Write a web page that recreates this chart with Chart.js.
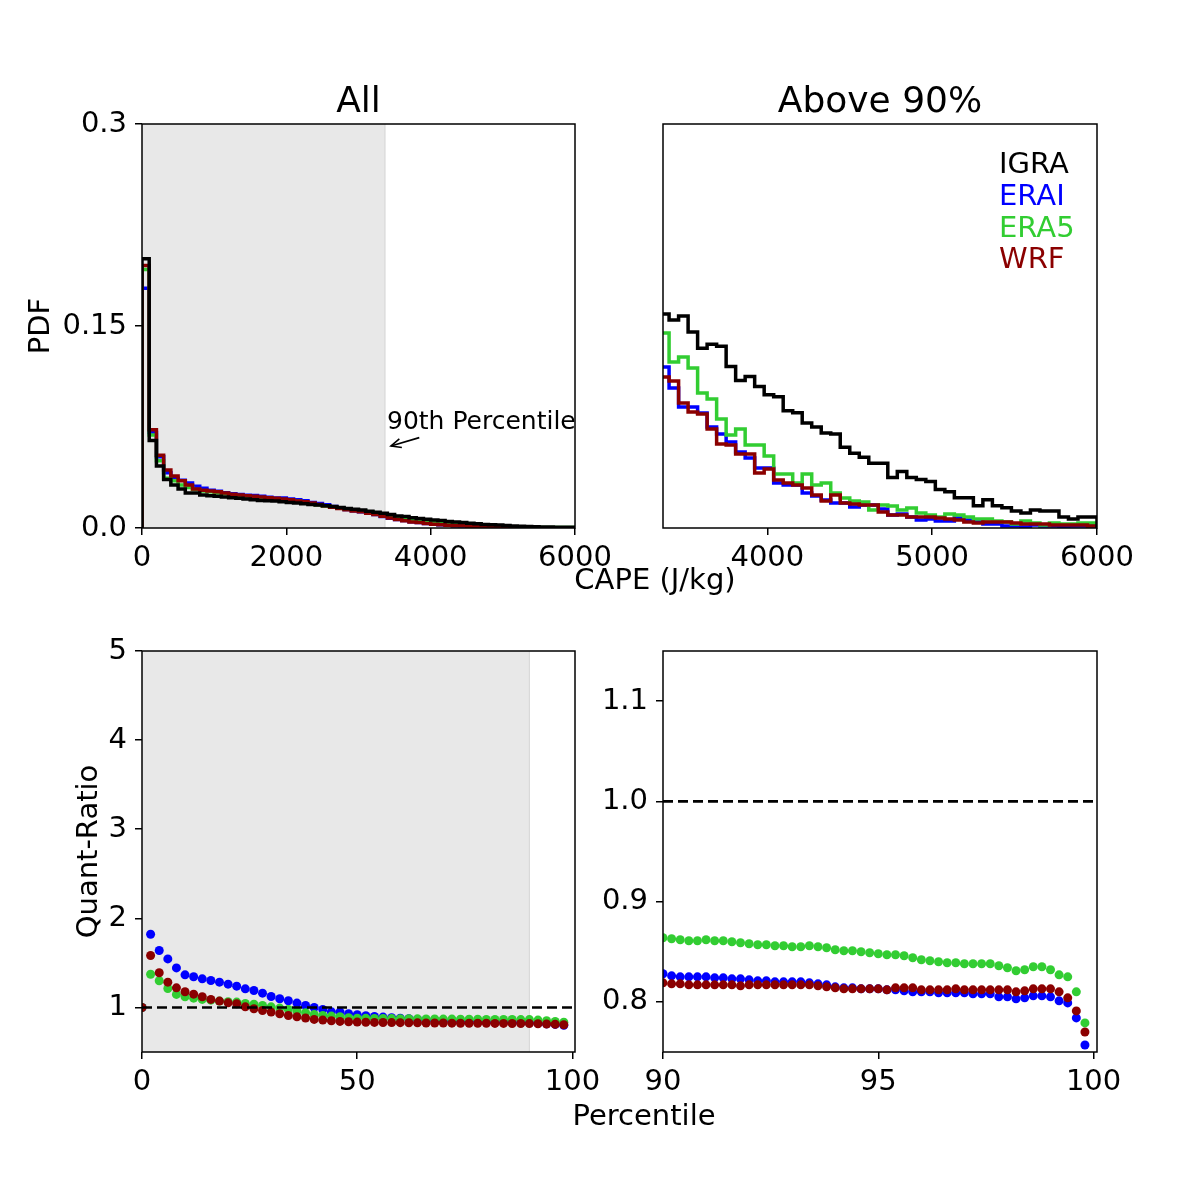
<!DOCTYPE html>
<html><head><meta charset="utf-8">
<script src="https://cdn.jsdelivr.net/npm/chart.js@4.4.1/dist/chart.umd.min.js"></script>
<style>
html,body{margin:0;padding:0;background:#fff;}
#wrap{position:relative;width:1196px;height:1184px;overflow:hidden;}
canvas{position:absolute;left:0;top:0;}
</style></head><body><div id="wrap">
<canvas id="c1" width="1196" height="1184"></canvas>
<canvas id="c2" width="1196" height="1184"></canvas>
<canvas id="c3" width="1196" height="1184"></canvas>
<canvas id="c4" width="1196" height="1184"></canvas>
</div>
<script>
// ---------------- DATA ----------------
const seriesNames = ['IGRA', 'ERAI', 'ERA5', 'WRF'];
// top-left PDF: bins of width 100 J/kg from 0 to 6000
const pdfAllBinStart = 0, pdfAllBinWidth = 100;
const pdfAllIGRA = [0.200,0.065,0.046,0.036,0.032,0.029,0.026,0.026,0.0245,0.024,
 0.0235,0.023,0.0225,0.022,0.0215,0.021,0.0205,0.0203,0.020,0.0195,
 0.019,0.0185,0.018,0.0175,0.017,0.0165,0.016,0.0152,0.0145,0.014,
 0.0133,0.0125,0.0117,0.011,0.0100,0.0090,0.0086,0.0076,0.0071,0.0065,
 0.0059,0.0055,0.0049,0.0045,0.0041,0.0035,0.0031,0.0026,0.0025,0.0022,
 0.0018,0.0015,0.0013,0.0012,0.0009,0.0008,0.0008,0.0005,0.0005,0.0005];
const pdfAllERAI = [0.178,0.071,0.053,0.041,0.037,0.0355,0.0335,0.031,0.0295,0.028,
 0.0272,0.0262,0.0255,0.0248,0.0243,0.0242,0.0235,0.0228,0.0222,0.0222,
 0.0216,0.021,0.0203,0.019,0.0182,0.0173,0.0160,0.0147,0.0137,0.0128,
 0.0120,0.0111,0.0100,0.0086,0.0072,0.0064,0.0055,0.0046,0.0041,0.0034,
 0.0027,0.0025,0.0020,0.0016,0.0015,0.0012,0.0012,0.0008,0.0007,0.0005,
 0.0004,0.0005,0.0004,0.0003,0.0002,0.0001,0.0001,0.0001,0.0001,0.0001];
const pdfAllERA5 = [0.192,0.069,0.050,0.037,0.035,0.032,0.030,0.0285,0.0275,0.027,
 0.026,0.0255,0.0245,0.024,0.0235,0.023,0.0225,0.022,0.0215,0.021,
 0.0205,0.0198,0.019,0.018,0.0172,0.0163,0.0155,0.0147,0.014,0.0132,
 0.0126,0.012,0.011,0.0100,0.0092,0.0082,0.0072,0.0062,0.0056,0.0050,
 0.0044,0.0038,0.0034,0.0031,0.0027,0.0022,0.0019,0.0016,0.0015,0.0013,
 0.0010,0.0009,0.0008,0.0006,0.0005,0.0004,0.0004,0.0003,0.0003,0.0003];
const pdfAllWRF = [0.195,0.073,0.054,0.043,0.0386,0.035,0.032,0.029,0.028,0.0275,
 0.027,0.026,0.025,0.0245,0.024,0.0235,0.023,0.0225,0.022,0.0215,
 0.021,0.020,0.0195,0.0185,0.0175,0.0165,0.0155,0.0145,0.0135,0.0127,
 0.012,0.011,0.0100,0.0088,0.0075,0.0063,0.0053,0.0045,0.0040,0.0033,
 0.0028,0.0025,0.0021,0.0017,0.0016,0.0013,0.0011,0.0008,0.0007,0.0006,
 0.0005,0.0004,0.0003,0.0003,0.0003,0.0002,0.0002,0.0002,0.00015,0.00012];
const p90CAPE = 3367;          // 90th percentile of CAPE (J/kg)

// top-right PDF above 90th percentile (arbitrary density units), bins of ~57.7 J/kg
const pdfTopBinStart = 3346.2, pdfTopBinWidth = 57.69;
const pdfTopIGRA = [1.06,1.03,1.05,0.97,0.89,0.91,0.90,0.80,0.73,0.75,
 0.70,0.66,0.65,0.58,0.57,0.52,0.50,0.47,0.465,0.40,
 0.37,0.35,0.32,0.32,0.25,0.28,0.25,0.24,0.23,0.19,
 0.18,0.15,0.15,0.11,0.14,0.11,0.10,0.084,0.074,0.089,
 0.084,0.084,0.054,0.045,0.054,0.054];
const pdfTopERAI = [0.797,0.693,0.599,0.599,0.569,0.500,0.465,0.426,0.376,0.347,
 0.297,0.297,0.223,0.213,0.213,0.173,0.158,0.139,0.124,0.124,
 0.104,0.114,0.114,0.094,0.064,0.069,0.054,0.040,0.045,0.035,
 0.035,0.050,0.040,0.035,0.020,0.020,0.010,0.010,0.005,0.015,
 0.010,0.010,0.005,0.010,0.010,0.010];
const pdfTopERA5 = [0.965,0.822,0.847,0.792,0.668,0.639,0.540,0.460,0.490,0.411,
 0.411,0.356,0.267,0.267,0.223,0.267,0.213,0.223,0.173,0.149,
 0.134,0.129,0.089,0.114,0.109,0.089,0.099,0.074,0.064,0.054,
 0.069,0.064,0.054,0.045,0.045,0.035,0.030,0.020,0.035,0.025,
 0.015,0.025,0.020,0.020,0.025,0.025];
const pdfTopWRF = [0.748,0.728,0.619,0.574,0.564,0.490,0.416,0.411,0.366,0.366,
 0.272,0.292,0.238,0.223,0.213,0.198,0.163,0.134,0.163,0.124,
 0.119,0.114,0.114,0.079,0.064,0.064,0.054,0.054,0.054,0.050,
 0.045,0.040,0.030,0.025,0.030,0.030,0.030,0.025,0.020,0.020,
 0.020,0.015,0.015,0.015,0.015,0.010];

// bottom-left quantile ratio, percentiles 0..98
const qAllPct = [0,2,4,6,8,10,12,14,16,18,20,22,24,26,28,30,32,34,36,38,
 40,42,44,46,48,50,52,54,56,58,60,62,64,66,68,70,72,74,76,78,
 80,82,84,86,88,90,92,94,96,98];
const qAllERAI = [1.0,1.821,1.639,1.545,1.444,1.366,1.344,1.321,1.302,1.284,
 1.261,1.239,1.209,1.190,1.160,1.123,1.097,1.075,1.049,1.022,
 1.000,0.978,0.951,0.951,0.929,0.918,0.907,0.899,0.892,0.884,
 0.880,0.873,0.866,0.860,0.855,0.851,0.847,0.844,0.841,0.839,
 0.837,0.835,0.833,0.831,0.829,0.828,0.822,0.815,0.810,0.800];
const qAllERA5 = [1.0,1.373,1.299,1.213,1.146,1.120,1.104,1.090,1.082,1.071,
 1.064,1.060,1.045,1.037,1.022,1.007,0.993,0.978,0.959,0.940,
 0.922,0.910,0.903,0.896,0.884,0.880,0.878,0.877,0.876,0.875,
 0.874,0.873,0.872,0.871,0.870,0.869,0.869,0.868,0.867,0.867,
 0.866,0.866,0.865,0.865,0.864,0.864,0.858,0.852,0.842,0.834];
const qAllWRF = [1.0,1.583,1.389,1.284,1.220,1.176,1.149,1.120,1.090,1.071,
 1.052,1.041,1.007,0.985,0.966,0.948,0.929,0.910,0.896,0.881,
 0.866,0.858,0.851,0.843,0.839,0.836,0.834,0.832,0.831,0.830,
 0.829,0.828,0.827,0.826,0.825,0.825,0.824,0.823,0.823,0.822,
 0.822,0.821,0.821,0.820,0.820,0.819,0.817,0.814,0.812,0.806];
const p90Pct = 90;
const refRatio = 1.0;

// bottom-right quantile ratio, percentiles 90.0..99.8
const qTopPct = [90.0,90.2,90.4,90.6,90.8,91.0,91.2,91.4,91.6,91.8,
 92.0,92.2,92.4,92.6,92.8,93.0,93.2,93.4,93.6,93.8,
 94.0,94.2,94.4,94.6,94.8,95.0,95.2,95.4,95.6,95.8,
 96.0,96.2,96.4,96.6,96.8,97.0,97.2,97.4,97.6,97.8,
 98.0,98.2,98.4,98.6,98.8,99.0,99.2,99.4,99.6,99.8];
const qTopERAI = [0.828,0.826,0.825,0.825,0.825,0.825,0.824,0.824,0.823,0.823,
 0.822,0.821,0.821,0.820,0.820,0.820,0.820,0.819,0.818,0.817,
 0.815,0.814,0.814,0.813,0.813,0.813,0.812,0.812,0.811,0.810,
 0.810,0.810,0.809,0.809,0.809,0.809,0.808,0.808,0.808,0.805,
 0.805,0.803,0.804,0.806,0.806,0.805,0.801,0.799,0.784,0.757];
const qTopERA5 = [0.864,0.863,0.862,0.861,0.861,0.862,0.861,0.861,0.860,0.859,
 0.858,0.857,0.857,0.856,0.856,0.855,0.855,0.856,0.855,0.854,
 0.852,0.851,0.851,0.850,0.849,0.848,0.847,0.847,0.846,0.844,
 0.842,0.841,0.840,0.839,0.839,0.838,0.838,0.838,0.838,0.836,
 0.834,0.831,0.832,0.835,0.835,0.832,0.827,0.825,0.810,0.779];
const qTopWRF = [0.819,0.818,0.818,0.817,0.817,0.817,0.817,0.817,0.817,0.816,
 0.817,0.817,0.817,0.817,0.817,0.817,0.817,0.817,0.816,0.815,
 0.814,0.813,0.813,0.813,0.813,0.813,0.812,0.814,0.814,0.814,
 0.812,0.812,0.812,0.812,0.813,0.812,0.812,0.812,0.812,0.812,
 0.812,0.810,0.811,0.813,0.813,0.813,0.810,0.804,0.791,0.770];

// tick values / labels
const pdfAllXTicks = [0, 2000, 4000, 6000];
const pdfAllXLabels = ['0', '2000', '4000', '6000'];
const pdfAllYTicks = [0, 0.15, 0.3];
const pdfAllYLabels = ['0.0', '0.15', '0.3'];
const pdfTopXTicks = [4000, 5000, 6000];
const pdfTopXLabels = ['4000', '5000', '6000'];
const qAllXTicks = [0, 50, 100];
const qAllXLabels = ['0', '50', '100'];
const qAllYTicks = [1, 2, 3, 4, 5];
const qAllYLabels = ['1', '2', '3', '4', '5'];
const qTopXTicks = [90, 95, 100];
const qTopXLabels = ['90', '95', '100'];
const qTopYTicks = [0.8, 0.9, 1.0, 1.1];
const qTopYLabels = ['0.8', '0.9', '1.0', '1.1'];

// ---------------- STYLE ----------------
const FONT = '"DejaVu Sans", "Liberation Sans", sans-serif';
const COL = { IGRA: '#000000', ERAI: '#0000ff', ERA5: '#32cd32', WRF: '#8b0000' };
const W = 1196, H = 1184;
const TICK_FS = 29;
const Y_AXIS_W = 110;

function histPoints(start, width, vals) {
  const pts = [{ x: start, y: 0 }];
  vals.forEach((v, i) => pts.push({ x: start + i * width, y: v }));
  const end = start + vals.length * width;
  pts.push({ x: end, y: vals[vals.length - 1] });
  pts.push({ x: end, y: 0 });
  return pts;
}
function xy(xs, ys) { return xs.map((x, i) => ({ x: x, y: ys[i] })); }

function xAxis(min, max, ticks, labels) {
  return {
    type: 'linear', position: 'bottom', min: min, max: max,
    afterBuildTicks: s => { s.ticks = ticks.map(v => ({ value: v })); },
    afterFit: s => { s.height = 50; },
    ticks: { autoSkip: false, maxRotation: 0, minRotation: 0, padding: 6, color: '#000',
      font: { family: FONT, size: TICK_FS }, callback: v => labels[ticks.indexOf(v)] },
    grid: { display: true, drawOnChartArea: false, drawTicks: true, tickLength: 7,
      tickWidth: 1.5, tickColor: '#000', color: '#000', lineWidth: 1.5 },
    border: { display: false }
  };
}
function yAxis(min, max, ticks, labels) {
  if (!ticks) return { type: 'linear', min: min, max: max, display: false };
  return {
    type: 'linear', position: 'left', min: min, max: max,
    afterBuildTicks: s => { s.ticks = ticks.map(v => ({ value: v })); },
    afterFit: s => { s.width = Y_AXIS_W; },
    ticks: { autoSkip: false, padding: 8, color: '#000',
      font: { family: FONT, size: TICK_FS }, callback: v => labels[ticks.indexOf(v)] },
    grid: { display: true, drawOnChartArea: false, drawTicks: true, tickLength: 7,
      tickWidth: 1.5, tickColor: '#000', color: '#000', lineWidth: 1.5 },
    border: { display: false }
  };
}

const framePlugin = {
  id: 'frame',
  afterDraw(chart) {
    const a = chart.chartArea, ctx = chart.ctx;
    ctx.save(); ctx.strokeStyle = '#000'; ctx.lineWidth = 1.5;
    ctx.strokeRect(a.left, a.top, a.right - a.left, a.bottom - a.top);
    ctx.restore();
  }
};
function shadePlugin(from, to) {
  return {
    id: 'shade',
    beforeDatasetsDraw(chart) {
      const a = chart.chartArea, ctx = chart.ctx, xs = chart.scales.x;
      const x0 = xs.getPixelForValue(from), x1 = xs.getPixelForValue(to);
      ctx.save();
      ctx.fillStyle = '#e8e8e8';
      ctx.fillRect(x0, a.top, x1 - x0, a.bottom - a.top);
      ctx.strokeStyle = '#d9d9d9'; ctx.lineWidth = 1.2;
      ctx.beginPath(); ctx.moveTo(x1, a.top); ctx.lineTo(x1, a.bottom); ctx.stroke();
      ctx.restore();
    }
  };
}
function refLinePlugin(val) {
  return {
    id: 'refline',
    afterDatasetsDraw(chart) {
      const a = chart.chartArea, ctx = chart.ctx, y = chart.scales.y.getPixelForValue(val);
      ctx.save(); ctx.strokeStyle = '#000'; ctx.lineWidth = 2.6; ctx.setLineDash([10, 5]);
      ctx.beginPath(); ctx.moveTo(a.left, y); ctx.lineTo(a.right, y); ctx.stroke();
      ctx.restore();
    }
  };
}
function textPlugin(items) {
  return {
    id: 'texts',
    afterDraw(chart) {
      const ctx = chart.ctx;
      items.forEach(t => {
        ctx.save();
        ctx.font = t.font; ctx.fillStyle = t.color || '#000';
        ctx.textAlign = t.align || 'left'; ctx.textBaseline = 'alphabetic';
        ctx.translate(t.x, t.y); if (t.rot) ctx.rotate(t.rot);
        ctx.fillText(t.text, 0, 0);
        ctx.restore();
      });
    }
  };
}
const annotPlugin = {
  id: 'annot',
  afterDraw(chart) {
    const ctx = chart.ctx, xs = chart.scales.x, ys = chart.scales.y;
    const tx = xs.getPixelForValue(3395), ty = ys.getPixelForValue(0.0735);
    ctx.save();
    ctx.font = '25px ' + FONT; ctx.fillStyle = '#000'; ctx.textAlign = 'left'; ctx.textBaseline = 'alphabetic';
    ctx.fillText('90th Percentile', tx, ty);
    const x0 = xs.getPixelForValue(3842), y0 = ys.getPixelForValue(0.0671);
    const x1 = xs.getPixelForValue(3450), y1 = ys.getPixelForValue(0.0609);
    ctx.strokeStyle = '#000'; ctx.lineWidth = 1.6;
    ctx.beginPath(); ctx.moveTo(x0, y0); ctx.lineTo(x1, y1); ctx.stroke();
    const ang = Math.atan2(y0 - y1, x0 - x1), L = 11, sp = 0.42;
    ctx.beginPath();
    ctx.moveTo(x1 + L * Math.cos(ang + sp), y1 + L * Math.sin(ang + sp));
    ctx.lineTo(x1, y1);
    ctx.lineTo(x1 + L * Math.cos(ang - sp), y1 + L * Math.sin(ang - sp));
    ctx.stroke();
    ctx.restore();
  }
};

function baseOptions(area, scales, hasY) {
  return {
    responsive: false, animation: false, devicePixelRatio: 1, events: [],
    layout: { padding: { left: hasY ? area.l - Y_AXIS_W : area.l, top: area.t, right: W - area.r, bottom: H - area.b - 50 } },
    plugins: { legend: { display: false }, tooltip: { enabled: false }, title: { display: false } },
    scales: scales
  };
}
function histDataset(name, start, width, vals, order) {
  return { type: 'line', label: name, data: histPoints(start, width, vals), stepped: true,
    borderColor: COL[name], borderWidth: 3.5, pointRadius: 0, fill: false, tension: 0,
    order: order, clip: 0, borderJoinStyle: 'miter' };
}
function dotDataset(name, xs, ys, order) {
  return { type: 'scatter', label: name, data: xy(xs, ys), showLine: false,
    backgroundColor: COL[name], borderWidth: 0, pointRadius: 4.5, pointBorderWidth: 0,
    order: order, clip: 0 };
}

// ---------- panel 1 : top-left ----------
new Chart(document.getElementById('c1'), {
  type: 'line',
  data: { datasets: [
    histDataset('IGRA', pdfAllBinStart, pdfAllBinWidth, pdfAllIGRA, 0),
    histDataset('WRF', pdfAllBinStart, pdfAllBinWidth, pdfAllWRF, 1),
    histDataset('ERA5', pdfAllBinStart, pdfAllBinWidth, pdfAllERA5, 2),
    histDataset('ERAI', pdfAllBinStart, pdfAllBinWidth, pdfAllERAI, 3)
  ] },
  options: baseOptions({ l: 142, t: 124, r: 575, b: 528 }, {
    x: xAxis(0, 6000, pdfAllXTicks, pdfAllXLabels),
    y: yAxis(0, 0.3, pdfAllYTicks, pdfAllYLabels)
  }, true),
  plugins: [shadePlugin(0, p90CAPE), framePlugin, annotPlugin, textPlugin([
    { text: 'All', x: 358.5, y: 112, font: '36px ' + FONT, align: 'center' },
    { text: 'PDF', x: 49, y: 326, font: '29px ' + FONT, align: 'center', rot: -Math.PI / 2 },
    { text: 'CAPE (J/kg)', x: 655, y: 589, font: '29px ' + FONT, align: 'center' }
  ])]
});

// ---------- panel 2 : top-right ----------
new Chart(document.getElementById('c2'), {
  type: 'line',
  data: { datasets: [
    histDataset('IGRA', pdfTopBinStart, pdfTopBinWidth, pdfTopIGRA, 0),
    histDataset('WRF', pdfTopBinStart, pdfTopBinWidth, pdfTopWRF, 1),
    histDataset('ERA5', pdfTopBinStart, pdfTopBinWidth, pdfTopERA5, 2),
    histDataset('ERAI', pdfTopBinStart, pdfTopBinWidth, pdfTopERAI, 3)
  ] },
  options: baseOptions({ l: 663, t: 124, r: 1097, b: 528 }, {
    x: xAxis(p90CAPE, 6000, pdfTopXTicks, pdfTopXLabels),
    y: yAxis(0, 2.0, null, null)
  }, false),
  plugins: [framePlugin, textPlugin([
    { text: 'Above 90%', x: 880, y: 112, font: '36px ' + FONT, align: 'center' },
    { text: seriesNames[0], x: 999, y: 173, font: '29px ' + FONT, color: COL.IGRA },
    { text: seriesNames[1], x: 999, y: 205, font: '29px ' + FONT, color: COL.ERAI },
    { text: seriesNames[2], x: 999, y: 237, font: '29px ' + FONT, color: COL.ERA5 },
    { text: seriesNames[3], x: 999, y: 268, font: '29px ' + FONT, color: COL.WRF }
  ])]
});

// ---------- panel 3 : bottom-left ----------
new Chart(document.getElementById('c3'), {
  type: 'line',
  data: { datasets: [
    dotDataset('WRF', qAllPct, qAllWRF, 0),
    dotDataset('ERA5', qAllPct, qAllERA5, 1),
    dotDataset('ERAI', qAllPct, qAllERAI, 2)
  ] },
  options: baseOptions({ l: 142, t: 651, r: 575, b: 1052 }, {
    x: xAxis(0, 100.6, qAllXTicks, qAllXLabels),
    y: yAxis(0.5, 5, qAllYTicks, qAllYLabels)
  }, true),
  plugins: [shadePlugin(0, p90Pct), refLinePlugin(refRatio), framePlugin, textPlugin([
    { text: 'Quant-Ratio', x: 97, y: 851.5, font: '29px ' + FONT, align: 'center', rot: -Math.PI / 2 },
    { text: 'Percentile', x: 644, y: 1125, font: '29px ' + FONT, align: 'center' }
  ])]
});

// ---------- panel 4 : bottom-right ----------
new Chart(document.getElementById('c4'), {
  type: 'line',
  data: { datasets: [
    dotDataset('WRF', qTopPct, qTopWRF, 0),
    dotDataset('ERA5', qTopPct, qTopERA5, 1),
    dotDataset('ERAI', qTopPct, qTopERAI, 2)
  ] },
  options: baseOptions({ l: 663, t: 651, r: 1097, b: 1052 }, {
    x: xAxis(90, 100.08, qTopXTicks, qTopXLabels),
    y: yAxis(0.75, 1.15, qTopYTicks, qTopYLabels)
  }, true),
  plugins: [refLinePlugin(refRatio), framePlugin]
});
</script>
</body></html>
